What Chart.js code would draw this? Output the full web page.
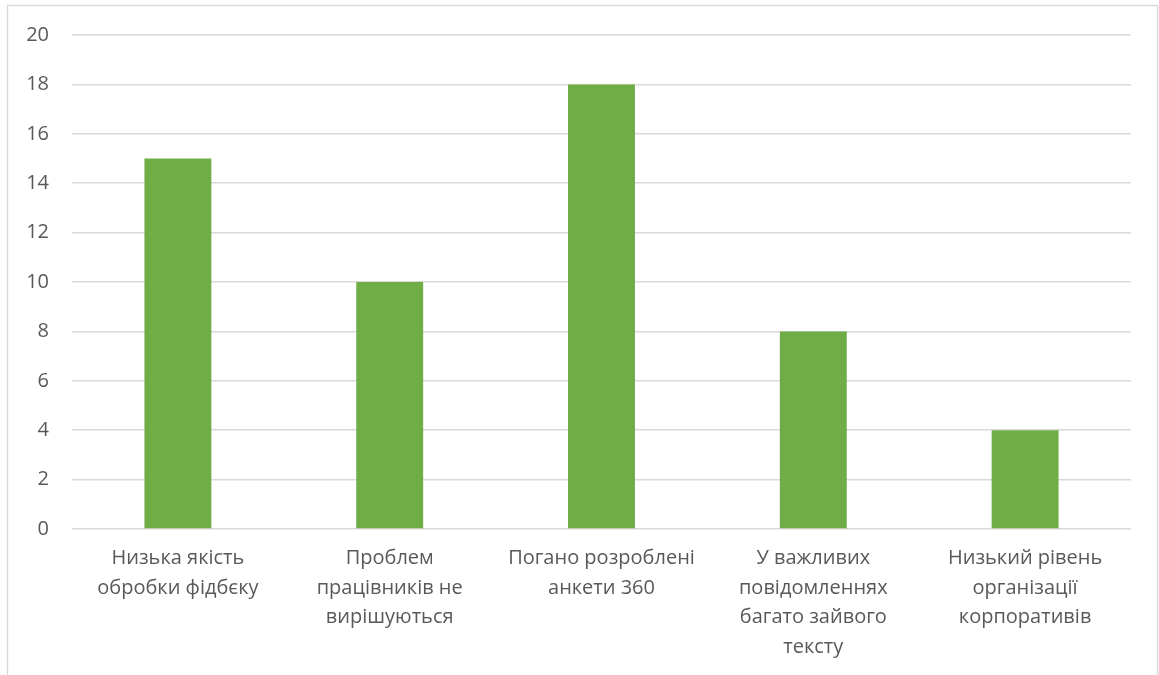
<!DOCTYPE html>
<html>
<head>
<meta charset="utf-8">
<script src="https://cdn.jsdelivr.net/npm/chart.js@4"></script>
<style>
  html, body { margin: 0; padding: 0; background: #fff; }
  #wrap { width: 1159px; height: 675px; }
</style>
</head>
<body>
<div id="wrap"><canvas id="myChart" width="1159" height="675"></canvas></div>
<script>
const categories = [
    ['Низька якість', 'обробки фідбєку'],
    ['Проблем', 'працівників не', 'вирішуються'],
    ['Погано розроблені', 'анкети 360'],
    ['У важливих', 'повідомленнях', 'багато зайвого', 'тексту'],
    ['Низький рівень', 'організації', 'корпоративів']
]
const values = [15, 10, 18, 8, 4]
const yTicks = [0, 2, 4, 6, 8, 10, 12, 14, 16, 18, 20]

const greenColor = '#70AD47'
const textColor = '#595959'
const gridColor = '#d9d9d9'

const frame = {
    id: 'frame',
    beforeDraw(chart) {
        const c = chart.ctx
        c.save()
        c.fillStyle = '#fff'
        c.fillRect(0, 0, chart.width, chart.height)
        c.strokeStyle = gridColor
        c.lineWidth = 1.5
        c.beginPath()
        c.moveTo(7.5, chart.height)
        c.lineTo(7.5, 5.5)
        c.lineTo(1157.5, 5.5)
        c.lineTo(1157.5, chart.height)
        c.stroke()
        c.restore()
    }
}

const ctx = document.getElementById('myChart')
new Chart(ctx, {
    type: 'bar',
    data: {
        labels: categories,
        datasets: [{
            data: values,
            backgroundColor: greenColor,
            categoryPercentage: 1,
            barPercentage: 0.316
        }]
    },
    options: {
        responsive: false,
        animation: false,
        layout: { padding: { left: 0, right: 28, top: 35, bottom: 0 } },
        plugins: { legend: { display: false }, tooltip: { enabled: false } },
        scales: {
            x: {
                afterFit: s => { s.height = 146 },
                grid: { display: false, drawTicks: false },
                border: { display: false },
                ticks: {
                    color: textColor,
                    padding: 15,
                    maxRotation: 0,
                    autoSkip: false,
                    font: { family: 'Open Sans', size: 20, lineHeight: 1.475 }
                }
            },
            y: {
                min: 0,
                max: 20,
                afterFit: s => { s.width = 72 },
                afterBuildTicks: s => { s.ticks = yTicks.map(v => ({ value: v })) },
                grid: { color: gridColor, lineWidth: 1.5, drawTicks: false },
                border: { display: false },
                ticks: {
                    color: textColor,
                    padding: 23,
                    font: { family: 'Open Sans', size: 20 }
                }
            }
        }
    },
    plugins: [frame]
})
</script>
</body>
</html>
